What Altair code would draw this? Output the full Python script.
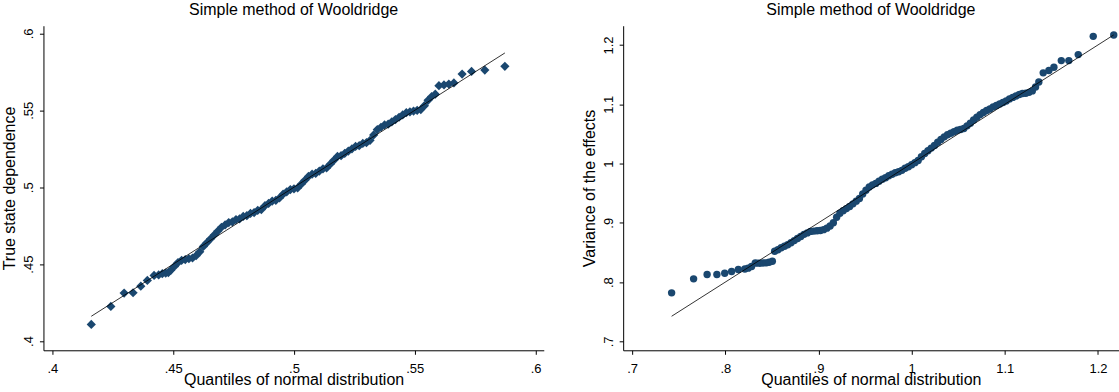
import altair as alt
import pandas as pd

# ---------------- data ----------------
# Left panel: True state dependence vs. quantiles of normal distribution
left_q = [0.4161, 0.4242, 0.4297, 0.4334, 0.4366, 0.4393, 0.4421, 0.4440, 0.4455, 0.4469, 0.4480,
          0.4490, 0.4505, 0.4520, 0.4535, 0.4550, 0.4565, 0.4580, 0.4595, 0.4610, 0.4625,
          0.4640, 0.4655, 0.4670, 0.4685, 0.4700, 0.4715, 0.4730, 0.4745, 0.4760, 0.4775,
          0.4790, 0.4805, 0.4820, 0.4835, 0.4850, 0.4865, 0.4880, 0.4895, 0.4910, 0.4925,
          0.4940, 0.4955, 0.4970, 0.4985, 0.5000, 0.5015, 0.5030, 0.5045, 0.5060, 0.5075,
          0.5090, 0.5105, 0.5120, 0.5135, 0.5150, 0.5165, 0.5180, 0.5195, 0.5210, 0.5225,
          0.5240, 0.5255, 0.5270, 0.5285, 0.5300, 0.5315, 0.5330, 0.5345, 0.5360, 0.5375,
          0.5390, 0.5405, 0.5420, 0.5435, 0.5450, 0.5465, 0.5480, 0.5495, 0.5510, 0.5525,
          0.5540, 0.5555, 0.5570, 0.5585,
          0.5600, 0.5621, 0.5641, 0.5662, 0.5696, 0.5735, 0.5790, 0.5873]
left_v = [0.4108, 0.4225, 0.4312, 0.4314, 0.4357, 0.4394, 0.4427, 0.4430, 0.4438, 0.4442, 0.4445,
          0.4460, 0.4485, 0.4510, 0.4525, 0.4530, 0.4535, 0.4540, 0.4555, 0.4580, 0.4615,
          0.4640, 0.4665, 0.4690, 0.4715, 0.4740, 0.4755, 0.4770, 0.4775, 0.4790, 0.4795,
          0.4810, 0.4815, 0.4830, 0.4835, 0.4850, 0.4855, 0.4880, 0.4895, 0.4910, 0.4915,
          0.4930, 0.4955, 0.4970, 0.4985, 0.4990, 0.4995, 0.5020, 0.5045, 0.5070, 0.5085,
          0.5090, 0.5105, 0.5120, 0.5125, 0.5150, 0.5175, 0.5200, 0.5205, 0.5220, 0.5235,
          0.5250, 0.5265, 0.5270, 0.5285, 0.5290, 0.5305, 0.5340, 0.5375, 0.5390, 0.5405,
          0.5410, 0.5425, 0.5440, 0.5455, 0.5470, 0.5485, 0.5490, 0.5495, 0.5500, 0.5505,
          0.5530, 0.5565, 0.5590, 0.5605,
          0.5660, 0.5665, 0.5671, 0.5678, 0.5736, 0.5753, 0.5762, 0.5786]

# Right panel: Variance of the effects vs. quantiles of normal distribution
right_q = [0.7424, 0.7660, 0.7805, 0.7910, 0.7994, 0.8068, 0.8140, 0.8210, 0.8245, 0.8282,
           0.8322, 0.8355, 0.8385, 0.8412, 0.8440, 0.8470, 0.8505,
           0.8530, 0.8565, 0.8600, 0.8635, 0.8670, 0.8705, 0.8740, 0.8775, 0.8810, 0.8845,
           0.8880, 0.8915, 0.8950, 0.8985, 0.9020, 0.9055, 0.9090, 0.9125, 0.9160, 0.9195,
           0.9230, 0.9265, 0.9300, 0.9335, 0.9370, 0.9405, 0.9440, 0.9475, 0.9510, 0.9545,
           0.9580, 0.9615, 0.9650, 0.9685, 0.9720, 0.9755, 0.9790, 0.9825, 0.9860, 0.9895,
           0.9930, 0.9965, 1.0000, 1.0035, 1.0070, 1.0105, 1.0140, 1.0175, 1.0210, 1.0245,
           1.0280, 1.0315, 1.0350, 1.0385, 1.0420, 1.0455, 1.0490, 1.0525, 1.0560, 1.0595,
           1.0630, 1.0665, 1.0700, 1.0735, 1.0770, 1.0805, 1.0840, 1.0875, 1.0910, 1.0945,
           1.0980, 1.1015, 1.1050, 1.1085, 1.1120, 1.1155, 1.1190, 1.1225, 1.1260, 1.1295,
           1.1330, 1.1365,
           1.1412, 1.1473, 1.1527, 1.1606, 1.1687, 1.1788, 1.1949, 1.2169]
right_v = [0.7819, 0.8055, 0.8128, 0.8128, 0.8150, 0.8179, 0.8212, 0.8220, 0.8235, 0.8264,
           0.8322, 0.8320, 0.8320, 0.8325, 0.8325, 0.8335, 0.8352,
           0.8520, 0.8545, 0.8580, 0.8605, 0.8630, 0.8665, 0.8700, 0.8735, 0.8770, 0.8805,
           0.8830, 0.8855, 0.8860, 0.8865, 0.8870, 0.8885, 0.8910, 0.8945, 0.9000, 0.9095,
           0.9160, 0.9205, 0.9240, 0.9275, 0.9320, 0.9365, 0.9410, 0.9485, 0.9550, 0.9605,
           0.9640, 0.9665, 0.9700, 0.9735, 0.9760, 0.9795, 0.9820, 0.9845, 0.9860, 0.9885,
           0.9920, 0.9945, 0.9980, 1.0015, 1.0050, 1.0115, 1.0170, 1.0215, 1.0260, 1.0305,
           1.0360, 1.0405, 1.0450, 1.0485, 1.0510, 1.0535, 1.0560, 1.0575, 1.0590, 1.0635,
           1.0680, 1.0735, 1.0780, 1.0825, 1.0860, 1.0895, 1.0920, 1.0955, 1.0980, 1.1005,
           1.1030, 1.1055, 1.1090, 1.1115, 1.1140, 1.1165, 1.1180, 1.1185, 1.1200, 1.1225,
           1.1290, 1.1375,
           1.1529, 1.1568, 1.1623, 1.1736, 1.1736, 1.1837, 1.2145, 1.2168]

left_xticks = [0.4, 0.45, 0.5, 0.55, 0.6]
left_yticks = [0.4, 0.45, 0.5, 0.55, 0.6]
right_xticks = [0.7, 0.8, 0.9, 1.0, 1.1, 1.2]
right_yticks = [0.7, 0.8, 0.9, 1.0, 1.1, 1.2]

panel_title = "Simple method of Wooldridge"
x_title = "Quantiles of normal distribution"
left_ytitle = "True state dependence"
right_ytitle = "Variance of the effects"

FONT = "Liberation Sans"
NAVY = "#1a476f"
LBL = "datum.value < 1 ? slice(format(datum.value, '~g'), 1) : format(datum.value, '~g')"


def panel(q, v, xdom, ydom, xticks, yticks, ytitle, shape, size, width):
    pts_df = pd.DataFrame({"q": q, "v": v})
    line_df = pd.DataFrame({"q": [min(q), max(q)], "v": [min(q), max(q)]})
    xs = alt.Scale(domain=xdom, nice=False, zero=False)
    ys = alt.Scale(domain=ydom, nice=False, zero=False)
    xaxis = alt.Axis(values=xticks, labelExpr=LBL, title=x_title, grid=False,
                     tickSize=4, labelBaseline="alphabetic", labelPadding=18,
                     titleBaseline="alphabetic", titleY=34.5, labelFlush=False)
    yaxis = alt.Axis(values=yticks, labelExpr=LBL, title=ytitle, grid=False,
                     tickSize=4, labelAngle=270, labelAlign="center",
                     labelBaseline="alphabetic", labelPadding=7,
                     titleAngle=270, titleBaseline="alphabetic", titleX=-29,
                     labelFlush=False)
    pts = alt.Chart(pts_df).mark_point(shape=shape, filled=True, size=size,
                                       color=NAVY, opacity=1).encode(
        x=alt.X("q:Q", scale=xs, axis=xaxis),
        y=alt.Y("v:Q", scale=ys, axis=yaxis),
    )
    ln = alt.Chart(line_df).mark_line(color="#000000", strokeWidth=0.8).encode(
        x=alt.X("q:Q", scale=xs),
        y=alt.Y("v:Q", scale=ys),
    )
    return alt.layer(pts, ln).properties(
        width=width, height=325,
        title=alt.TitleParams(panel_title, font=FONT, fontSize=16, fontWeight="normal",
                              color="#000000", baseline="alphabetic", offset=-5.5,
                              frame="group", anchor="middle"),
    )


left = panel(left_q, left_v, [0.3963, 0.6034], [0.394, 0.605],
             left_xticks, left_yticks, left_ytitle, "diamond", 85, 501)
right = panel(right_q, right_v, [0.6904, 1.222], [0.685, 1.2324],
              right_xticks, right_yticks, right_ytitle, "circle", 55, 496)

chart = alt.hconcat(left, right, spacing=37.5).properties(
    padding={"left": 1.5, "top": 1.5, "right": 0, "bottom": 0},
    background="white",
).configure_view(strokeWidth=0).configure_axis(
    labelFont=FONT, titleFont=FONT, labelFontSize=13, titleFontSize=16,
    titleFontWeight="normal", labelColor="#000000", titleColor="#000000",
    domainColor="#000000", tickColor="#000000", domainWidth=1, tickWidth=1,
)

chart.save("out.html", embed_options={"renderer": "svg", "actions": False})
